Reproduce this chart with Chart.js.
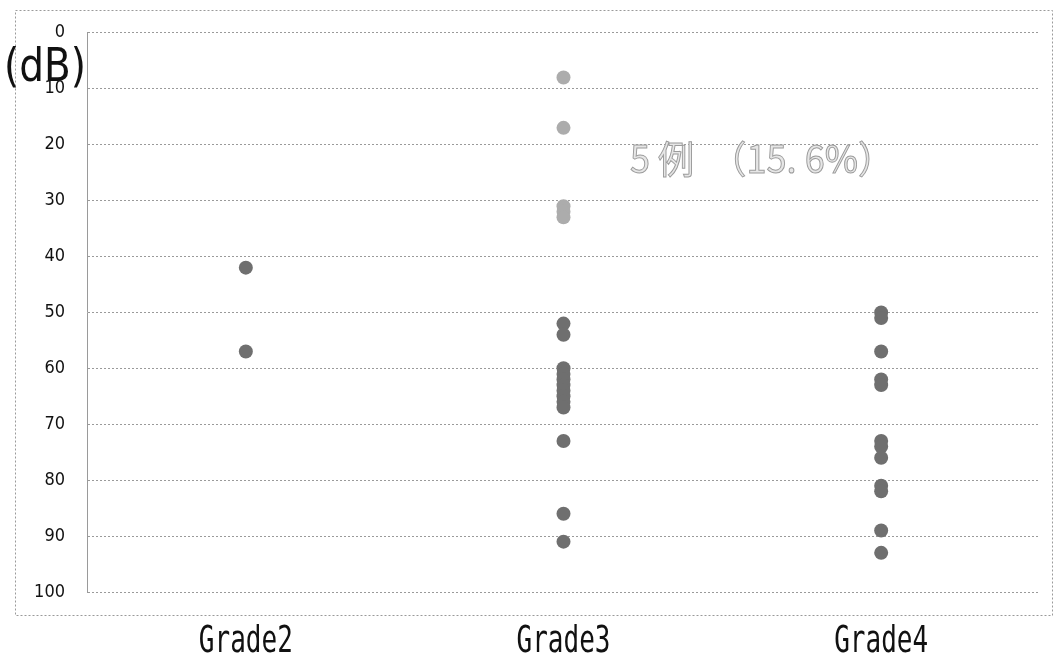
<!DOCTYPE html>
<html>
<head>
<meta charset="utf-8">
<script src="https://cdn.jsdelivr.net/npm/chart.js@4.4.1/dist/chart.umd.min.js"></script>
<style>
html,body{margin:0;padding:0;background:#fff;}
#wrap{width:1058px;height:658px;position:relative;}
</style>
</head>
<body>
<div id="wrap"><canvas id="c" width="1058" height="658"></canvas></div>
<script>
const categories = ['Grade2', 'Grade3', 'Grade4'];
const yTicks = [0, 10, 20, 30, 40, 50, 60, 70, 80, 90, 100];
const grade2Values = [42, 57];
const grade3LightValues = [8, 17, 31, 32, 33];
const grade3Values = [52, 54, 60, 61, 62, 63, 64, 65, 66, 67, 73, 86, 91];
const grade4Values = [50, 51, 57, 62, 63, 73, 74, 76, 81, 82, 89, 93];
const yUnit = '(dB)';
const noteText = '5 例  （15. 6%）';

const darkPoints = []
  .concat(grade2Values.map(v => ({x: categories[0], y: v})))
  .concat(grade3Values.map(v => ({x: categories[1], y: v})))
  .concat(grade4Values.map(v => ({x: categories[2], y: v})));
const lightPoints = grade3LightValues.map(v => ({x: categories[1], y: v}));

function drawScaledText(ctx, text, x, y, targetW) {
  const w = ctx.measureText(text).width;
  const s = targetW / w;
  ctx.save();
  ctx.translate(x, y);
  ctx.scale(s, 1);
  ctx.fillText(text, 0, 0);
  ctx.restore();
}

const decor = {
  id: 'decor',
  afterDraw(chart) {
    const ctx = chart.ctx;
    ctx.save();
    // outer dotted frame
    ctx.strokeStyle = '#9a9a9a';
    ctx.lineWidth = 1;
    ctx.setLineDash([2, 2]);
    ctx.strokeRect(15.5, 10.5, 1037, 605);
    ctx.setLineDash([]);
    // unit label
    ctx.fillStyle = '#111';
    ctx.font = '46px "DejaVu Sans Condensed", sans-serif';
    ctx.textAlign = 'left';
    ctx.textBaseline = 'middle';
    drawScaledText(ctx, yUnit, 4, 69, 82);
    // x category labels (narrow monospace look)
    const xs = chart.scales.x;
    ctx.font = '38px "DejaVu Sans Mono", monospace';
    ctx.textAlign = 'center';
    ctx.textBaseline = 'middle';
    categories.forEach((c, i) => {
      const px = xs.getPixelForValue(i);
      const w = ctx.measureText(c).width;
      const s = 94 / w;
      ctx.save();
      ctx.translate(px, 642);
      ctx.scale(s, 1);
      ctx.fillText(c, 0, 0);
      ctx.restore();
    });
    // annotation
    const ys = chart.scales.y;
    ctx.font = '38px "Noto Sans CJK JP", sans-serif';
    ctx.textAlign = 'left';
    ctx.textBaseline = 'middle';
    const ty = ys.getPixelForValue(20) + 14;
    const w = ctx.measureText(noteText).width;
    const s = 264 / w;
    ctx.translate(630, ty);
    ctx.scale(s, 1);
    ctx.fillStyle = '#e6e6e6';
    ctx.strokeStyle = '#9c9c9c';
    ctx.lineWidth = 1;
    ctx.fillText(noteText, 0, 0);
    ctx.strokeText(noteText, 0, 0);
    ctx.restore();
  }
};

new Chart(document.getElementById('c'), {
  type: 'scatter',
  data: {
    labels: categories,
    datasets: [
      { data: darkPoints, backgroundColor: '#6f6f6f', borderColor: '#6f6f6f', borderWidth: 0, pointRadius: 7, pointHoverRadius: 7 },
      { data: lightPoints, backgroundColor: '#acacac', borderColor: '#acacac', borderWidth: 0, pointRadius: 7, pointHoverRadius: 7 }
    ]
  },
  options: {
    responsive: false,
    animation: false,
    devicePixelRatio: 1,
    layout: { padding: { left: 0, top: 32, right: 18, bottom: 0 } },
    plugins: { legend: { display: false }, tooltip: { enabled: false } },
    scales: {
      x: {
        type: 'category',
        labels: categories,
        offset: true,
        grid: { display: false, drawTicks: false },
        border: { display: false },
        ticks: { display: false },
        afterFit(scale) { scale.height = 66; }
      },
      y: {
        reverse: true,
        min: 0,
        max: 100,
        afterBuildTicks(scale) { scale.ticks = yTicks.map(v => ({value: v})); },
        grid: { color: '#9a9a9a', lineWidth: 1, drawTicks: false },
        border: { display: true, color: '#9a9a9a', dash: [2, 2] },
        ticks: {
          padding: 22,
          color: '#111',
          font: { family: '"DejaVu Sans Condensed", sans-serif', size: 18 }
        },
        afterFit(scale) { scale.width = 87; }
      }
    }
  },
  plugins: [decor]
});
</script>
</body>
</html>
